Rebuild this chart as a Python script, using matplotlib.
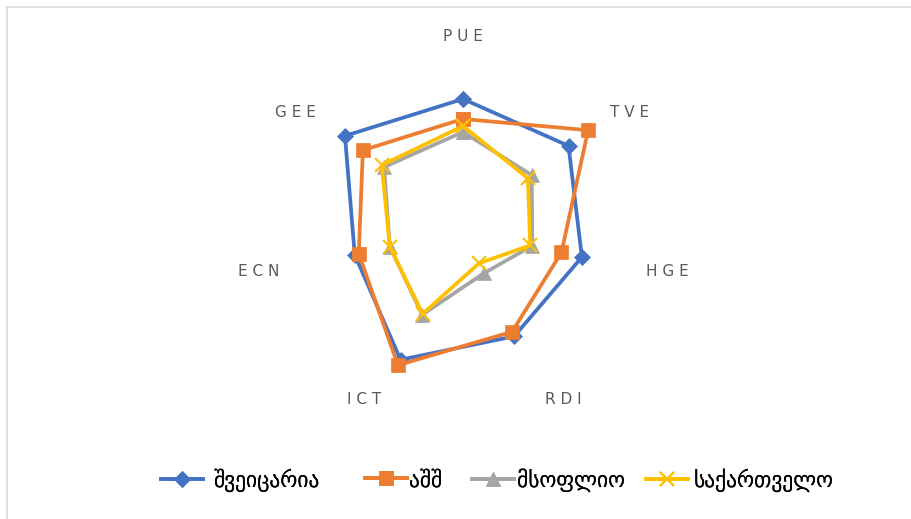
import numpy as np
import matplotlib
matplotlib.use("Agg")
import matplotlib.pyplot as plt
from matplotlib.lines import Line2D

categories = ["PUE", "TVE", "HGE", "RDI", "ICT", "ECN", "GEE"]
series_names = ["შვეიცარია", "აშშ", "მსოფლიო", "საქართველო"]
switzerland = [79.4, 81.8, 73.9, 71.5, 87.3, 67.3, 91.5]
usa = [67.3, 97.0, 61.2, 68.5, 90.9, 64.8, 77.6]
world = [59.4, 53.3, 43.0, 29.1, 57.0, 45.5, 61.2]
georgia = [63.0, 50.3, 41.8, 22.4, 56.4, 45.5, 63.0]

colors = ["#4472C4", "#ED7D31", "#A5A5A5", "#FFC000"]
markers = ["D", "s", "^", "x"]
msizes = [8, 10.5, 10.5, 9.5]

W, H = 912, 519
fig = plt.figure(figsize=(W / 100, H / 100), dpi=100)
fig.patch.set_facecolor("white")

cx, cy, R = 463, 230, 165
ax = fig.add_axes([(cx - R) / W, (H - cy - R) / H, 2 * R / W, 2 * R / H], projection="polar")
ax.set_theta_zero_location("N")
ax.set_theta_direction(-1)
ax.set_ylim(0, 100)
ax.grid(False)
ax.spines["polar"].set_visible(False)
ax.set_xticks([])
ax.set_yticks([])
ax.patch.set_alpha(0)

n = len(categories)
angles = np.linspace(0, 2 * np.pi, n, endpoint=False)
ang_closed = np.concatenate([angles, angles[:1]])

handles = []
for name, vals, c, m, ms in zip(series_names, [switzerland, usa, world, georgia], colors, markers, msizes):
    v = np.array(vals + vals[:1])
    ln, = ax.plot(ang_closed, v, color=c, lw=2.7, marker=m, markersize=ms,
                  markeredgewidth=1.5 if m == "x" else 0.5, markeredgecolor=c,
                  markerfacecolor=c, label=name, clip_on=False, solid_joinstyle="round")
    handles.append(ln)

for a, lab in zip(angles, categories):
    s = np.sin(a)
    spaced = " ".join(lab)
    kw = dict(va="center", fontsize=11, color="#595959", clip_on=False)
    if abs(s) < 1e-6:
        ax.text(a, 117, spaced, ha="center", **kw)
    elif s > 0:
        ax.text(a, 114, spaced, ha="left", **kw)
    else:
        ax.text(a, 114, spaced, ha="right", **kw)

# chart border (top and left visible)
fig.add_artist(Line2D([7 / W, 1], [1 - 7 / H, 1 - 7 / H], transform=fig.transFigure, color="#D9D9D9", lw=1.2))
fig.add_artist(Line2D([7 / W, 7 / W], [0, 1 - 7 / H], transform=fig.transFigure, color="#D9D9D9", lw=1.2))

# legend entries, laid out in a row like the reference
leg_x = [161, 365, 472, 646]
leg_pad = [0.5, 0.1, 0.12, 0.25]
leg_y = 1 - 480 / H
for h, name, x0, pad in zip(handles, series_names, leg_x, leg_pad):
    lg = fig.legend([h], [name], loc="center left", bbox_to_anchor=(x0 / W, leg_y),
                    frameon=False, fontsize=15.5, handlelength=1.95, handletextpad=pad,
                    borderpad=0, borderaxespad=0)
    fig.add_artist(lg)

fig.savefig("out.png", dpi=100, facecolor="white")
